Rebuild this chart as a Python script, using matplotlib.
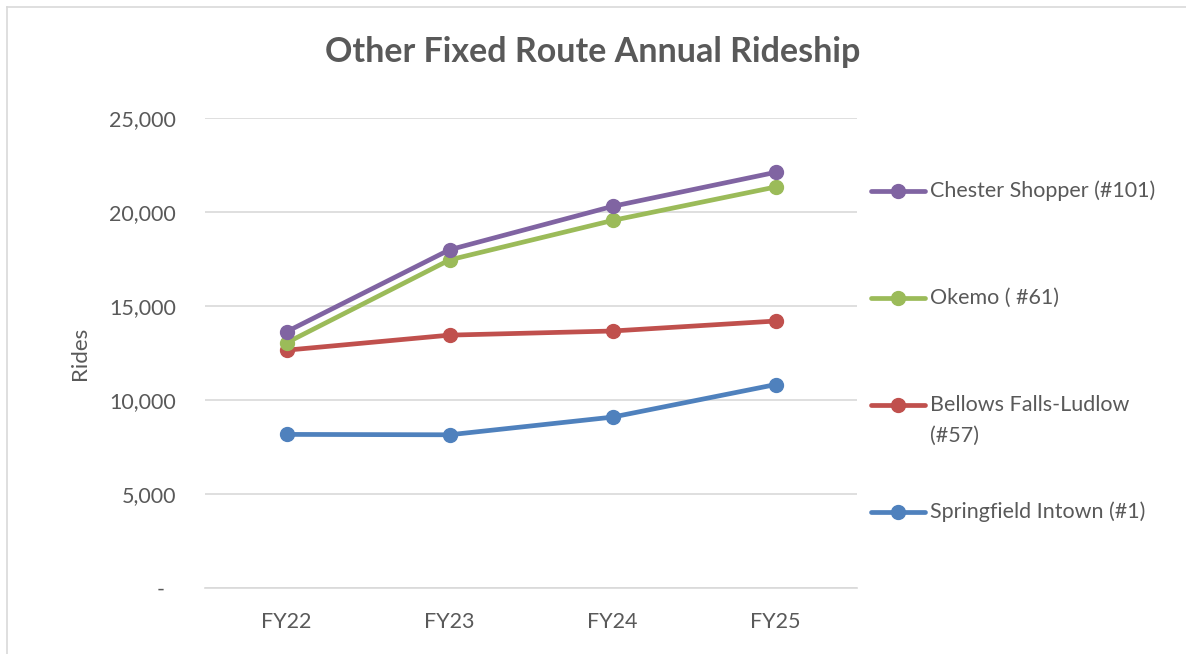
import matplotlib
matplotlib.use("Agg")
import matplotlib.pyplot as plt
from matplotlib.lines import Line2D
from matplotlib.ticker import FuncFormatter

plt.rcParams['font.family'] = ['Lato', 'DejaVu Sans']

years = ["FY22", "FY23", "FY24", "FY25"]
chester = [13630, 17990, 20300, 22110]
okemo = [13040, 17450, 19550, 21330]
bellows = [12650, 13450, 13670, 14200]
springfield = [8170, 8150, 9090, 10820]

labels = ["Chester Shopper (#101)", "Okemo ( #61)", "Bellows Falls-Ludlow\n(#57)", "Springfield Intown (#1)"]
colors = ["#8064A2", "#9BBB59", "#C0504D", "#4F81BD"]
series = [chester, okemo, bellows, springfield]

txt = "#595959"
W, H = 1186, 654

fig = plt.figure(figsize=(11.86, 6.54), dpi=100)
ax = fig.add_axes([205 / W, 1 - 588 / H, 652 / W, 470 / H])

x = range(len(years))
# draw bottom series first so purple ends up on top
for vals, col in reversed(list(zip(series, colors))):
    ax.plot(x, vals, color=col, lw=3.4, marker="o", ms=10, solid_capstyle="round")

ax.set_xlim(-0.5, 3.5)
ax.set_ylim(0, 25000)
ax.set_yticks(range(0, 25001, 5000))
# accounting style: zero shown as a dash, set in from the right edge
ax.yaxis.set_major_formatter(FuncFormatter(lambda v, p: "-  " if v == 0 else f"{int(v):,}"))
ax.set_xticks(list(x))
ax.set_xticklabels(years)
ax.grid(axis="y", color="#D9D9D9", lw=1.2)
ax.set_axisbelow(True)
for s in ["top", "right", "left"]:
    ax.spines[s].set_visible(False)
ax.spines["bottom"].set_color("#D9D9D9")
ax.spines["bottom"].set_linewidth(1.2)
ax.tick_params(axis="both", length=0, labelsize=15.5, labelcolor=txt)
ax.tick_params(axis="y", pad=21)
ax.tick_params(axis="x", pad=17)
ax.set_ylabel("Rides", fontsize=16, color=txt, labelpad=14)

fig.text(0.5, 1 - 52 / H, "Other Fixed Route Annual Rideship", ha="center", va="center",
         fontsize=24.5, fontweight="bold", color=txt)

# legend drawn by hand: Excel spaces entries evenly and aligns marker with first line
leg_y = [191, 298, 405, 512]
for lab, col, yp in zip(labels, colors, leg_y):
    yf = 1 - yp / H
    fig.add_artist(Line2D([871 / W, 925 / W], [yf, yf], color=col, lw=3.4,
                          solid_capstyle="round", transform=fig.transFigure))
    fig.add_artist(Line2D([898 / W], [yf], color=col, marker="o", ms=10,
                          transform=fig.transFigure))
    for i, line in enumerate(lab.split("\n")):
        fig.text(930 / W, 1 - (yp + i * 31) / H, line, ha="left", va="center",
                 fontsize=15.5, color=txt)

# chart area border (left and top edges)
fig.add_artist(Line2D([0.006, 0.006], [0.0, 0.989], color="#D9D9D9", lw=1.2, transform=fig.transFigure))
fig.add_artist(Line2D([0.006, 1.0], [0.989, 0.989], color="#D9D9D9", lw=1.2, transform=fig.transFigure))

fig.savefig("out.png", dpi=100)
